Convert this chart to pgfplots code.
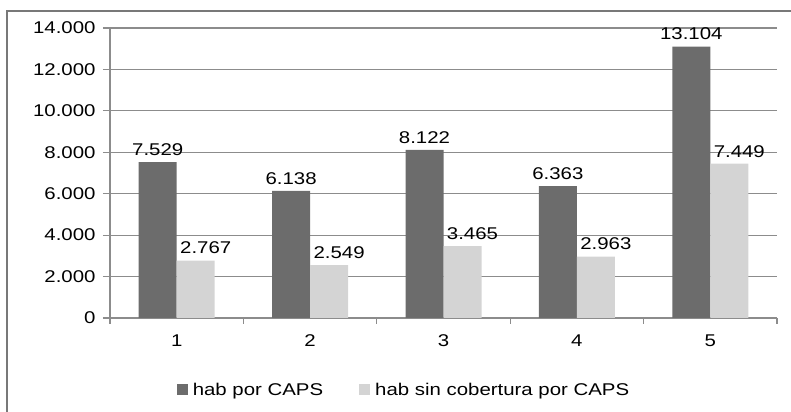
\documentclass[border=0pt]{standalone}
\usepackage{pgfplots}
\pgfplotsset{compat=1.18}
\usepackage{fontspec}
\setmainfont{Liberation Sans}[FakeStretch=1.2]
\definecolor{darkbar}{RGB}{108,108,108}
\definecolor{lightbar}{RGB}{212,212,212}
\definecolor{gridc}{RGB}{140,140,140}
\definecolor{framec}{RGB}{120,120,120}
\pgfkeys{/pgf/number format/.cd,1000 sep={.},assume math mode=true}
\begin{document}
\begin{tikzpicture}[font=\fontsize{17bp}{20bp}\selectfont]
\path[use as bounding box] (0,0) rectangle (791bp,412bp);
\draw[framec, line width=1.2bp] (7bp,0) -- (7bp,401bp) -- (791bp,401bp);
\begin{axis}[
  at={(110bp,94bp)}, anchor=south west,
  scale only axis, width=667bp, height=290bp,
  ymin=0, ymax=14000, ytick={0,2000,...,14000},
  xmin=0.5, xmax=5.5, xtick={1,2,3,4,5},
  minor xtick={0.5,1.5,2.5,3.5,4.5,5.5},
  axis x line*=bottom, axis y line*=left,
  axis line style={gridc, line width=1.2bp, -},
  ymajorgrids, grid style={gridc, line width=1.2bp},
  major x tick style={draw=none},
  minor x tick style={gridc, line width=1.2bp},
  y tick style={gridc, line width=1.2bp},
  tick align=outside,
  major tick length=7bp, minor tick length=6bp,
  tick label style={font=\fontsize{17bp}{20bp}\selectfont, text=black},
  yticklabel style={xshift=-4bp},
  xticklabel style={yshift=-6bp},
  scaled y ticks=false,
  ybar=0pt, bar width=38bp,
  nodes near coords,
  every node near coord/.append style={font=\fontsize{17bp}{20bp}\selectfont, anchor=south, yshift=3bp, text=black},
  legend columns=2,
  legend style={at={(0.4408,-0.248)}, anchor=center, draw=none, fill=none,
    font=\fontsize{17bp}{20bp}\selectfont,
    /tikz/every even column/.append style={column sep=34bp}},
  legend image code/.code={\fill[#1] (0bp,-5bp) rectangle (11bp,6bp); \path (14bp,0bp);},
  clip=false,
]
\addplot[fill=darkbar, draw=none] coordinates {(1,7529) (2,6138) (3,8122) (4,6363) (5,13104)};
\addplot[fill=lightbar, draw=none, every node near coord/.append style={xshift=10bp}] coordinates {(1,2767) (2,2549) (3,3465) (4,2963) (5,7449)};
\legend{hab por CAPS, hab sin cobertura por CAPS}
\end{axis}
\end{tikzpicture}
\end{document}
